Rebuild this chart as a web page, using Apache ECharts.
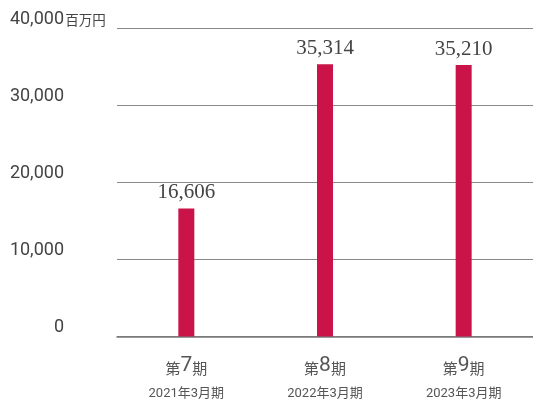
<!DOCTYPE html>
<html>
<head>
<meta charset="utf-8">
<script src="https://cdn.jsdelivr.net/npm/echarts@6/dist/echarts.min.js"></script>
<style>html,body{margin:0;padding:0;background:#fff;}#c{width:533px;height:400px;}</style>
</head>
<body>
<div id="c"></div>
<script>
const periods = ['7', '8', '9'];
const fiscalYears = ['2021年3月期', '2022年3月期', '2023年3月期'];
const values = [16606, 35314, 35210];
const yTicks = [0, 10000, 20000, 30000, 40000];
const unit = '百万円';

const chart = echarts.init(document.getElementById('c'));
const fmt = v => v.toLocaleString('en-US');
chart.setOption({
  animation: false,
  grid: { left: 117, width: 420, top: 28, bottom: 62 },
  xAxis: {
    type: 'category',
    data: periods,
    axisTick: { show: false },
    axisLine: { lineStyle: { color: '#777', width: 1.5 } },
    axisLabel: {
      margin: 14,
      formatter: (v, i) => '{a|第}{b|' + periods[i] + '}{a|期}\n{c|' + fiscalYears[i] + '}',
      rich: {
        a: { fontSize: 15, color: '#555', fontFamily: 'Noto Sans CJK JP', verticalAlign: 'bottom', lineHeight: 26, padding: [0, 0, 1, 0] },
        b: { fontSize: 21, color: '#555', fontFamily: 'Roboto', verticalAlign: 'bottom', lineHeight: 26 },
        c: { fontSize: 13, color: '#555', fontFamily: 'Roboto, Noto Sans CJK JP', lineHeight: 34 }
      }
    }
  },
  yAxis: {
    type: 'value',
    min: yTicks[0],
    max: yTicks[yTicks.length - 1],
    interval: 10000,
    axisLine: { show: false },
    axisTick: { show: false },
    splitLine: { lineStyle: { color: '#888', width: 1 } },
    axisLabel: {
      margin: 10,
      verticalAlign: 'bottom',
      formatter: v => v === yTicks[yTicks.length - 1]
        ? '{n|' + fmt(v) + '}{u|' + unit + '}'
        : '{n|' + fmt(v) + '}{s|}',
      rich: {
        n: { fontSize: 18, color: '#444', fontFamily: 'Roboto', verticalAlign: 'bottom' },
        u: { fontSize: 13.5, color: '#444', fontFamily: 'Noto Sans CJK JP', verticalAlign: 'bottom', width: 43, align: 'left', padding: [0, 0, 1, 0] },
        s: { width: 43 }
      }
    }
  },
  series: [{
    type: 'bar',
    data: values,
    barWidth: 16,
    itemStyle: { color: '#CA1449' },
    label: {
      show: true,
      position: 'top',
      distance: 5,
      formatter: p => fmt(p.value),
      fontFamily: 'Liberation Serif',
      fontSize: 21,
      color: '#444'
    }
  }]
});
</script>
</body>
</html>
